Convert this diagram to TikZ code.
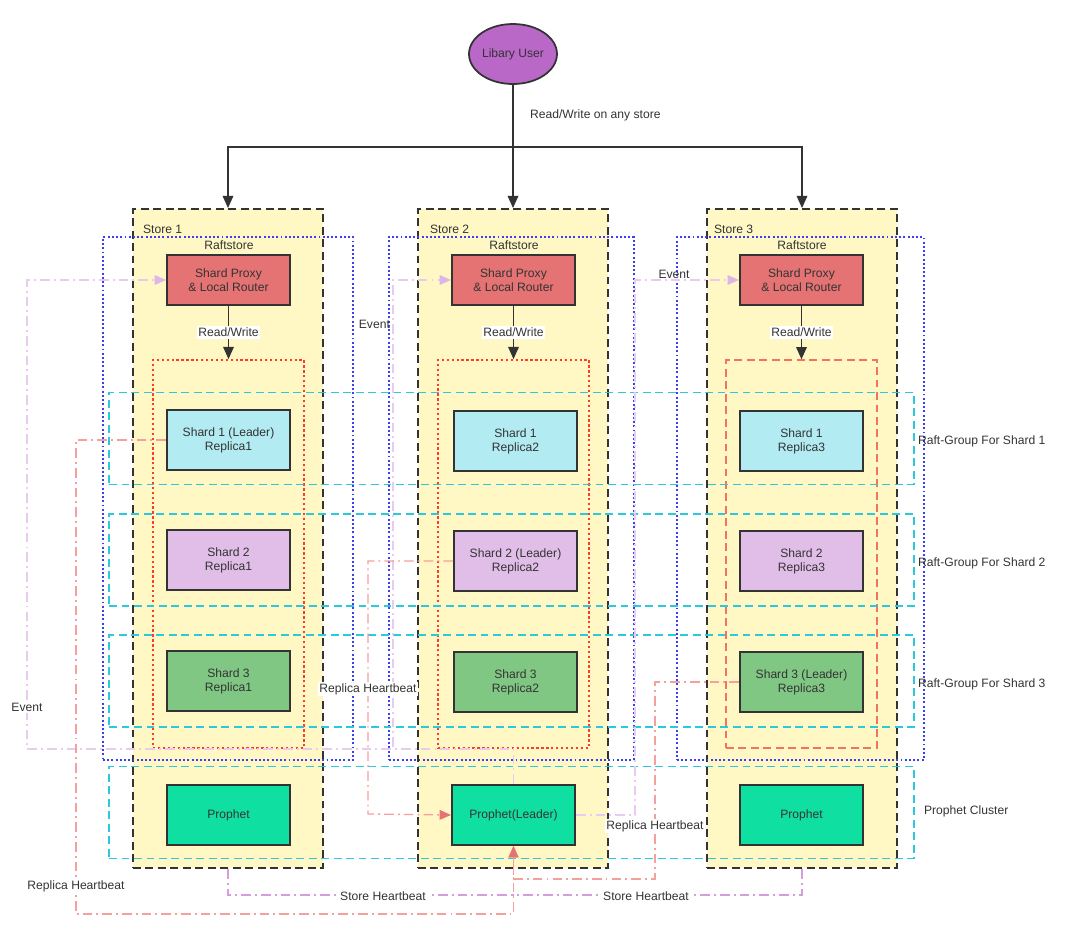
\documentclass[tikz,border=0pt]{standalone}
\usepackage{fontspec}
\setmainfont{Liberation Sans}
\usetikzlibrary{arrows.meta,shapes.geometric}
\definecolor{ink}{HTML}{333333}
\definecolor{storefill}{HTML}{FFF8C5}
\definecolor{rsblue}{HTML}{3D3DF2}
\definecolor{redgrp}{HTML}{FF3B30}
\definecolor{redgrpb}{HTML}{F2735E}
\definecolor{cyangrp}{HTML}{2CC8DC}
\definecolor{evcol}{HTML}{E8CBEF}
\definecolor{evtip}{HTML}{DDB6E8}
\definecolor{rhcol}{HTML}{F4A09C}
\definecolor{rhtip}{HTML}{E57373}
\definecolor{shcol}{HTML}{D49EDD}
\definecolor{usercol}{HTML}{BA68C8}
\definecolor{proxycol}{HTML}{E57373}
\definecolor{sh1col}{HTML}{B2EBF2}
\definecolor{sh2col}{HTML}{E1BEE7}
\definecolor{sh3col}{HTML}{81C784}
\definecolor{propcol}{HTML}{0FE0A1}
\begin{document}
\begin{tikzpicture}[x=0.02cm,y=-0.02cm,
  font=\fontsize{6.9}{8}\selectfont, text=ink,
  box/.style={draw=ink, line width=1.1pt, minimum width=2.46cm, minimum height=1.2cm, inner sep=0pt, align=center},
  storebox/.style={draw=ink, fill=storefill, line width=1.1pt, dash pattern=on 4.5pt off 2.6pt, minimum width=3.8cm, minimum height=13.18cm, inner sep=0pt},
  rsbox/.style={draw=rsblue, line width=0.7pt, dash pattern=on 1.1pt off 1.3pt, minimum height=10.46cm, inner sep=0pt},
  redbox/.style={draw=redgrp, line width=1pt, dash pattern=on 1.3pt off 1.5pt, minimum width=3.02cm, minimum height=7.76cm, inner sep=0pt},
  redboxb/.style={draw=redgrpb, line width=0.8pt, dash pattern=on 4.5pt off 2.6pt, minimum width=3.02cm, minimum height=7.76cm, inner sep=0pt},
  cyanbox/.style={draw=cyangrp, line width=0.8pt, dash pattern=on 4.5pt off 2.6pt, minimum width=16.1cm, minimum height=1.84cm, inner sep=0pt},
  blk/.style={draw=ink, line width=1pt, -{Triangle[length=7pt,width=6pt]}},
  event/.style={draw=evcol, line width=0.75pt, dash pattern=on 5.5pt off 2.3pt on 1.1pt off 2.3pt, -{Triangle[length=6.5pt,width=5.5pt,color=evtip]}},
  rhb/.style={draw=rhcol, line width=0.75pt, dash pattern=on 5.5pt off 2.3pt on 1.1pt off 2.3pt, -{Triangle[length=6.5pt,width=5.5pt,color=rhtip]}},
  shb/.style={draw=shcol, line width=0.75pt, dash pattern=on 5.5pt off 2.3pt on 1.1pt off 2.3pt},
  lbl/.style={inner sep=1pt},
  wlbl/.style={fill=white, inner sep=1pt}
]
\useasboundingbox (0,0) rectangle (1080,937);

% stores
\node[storebox] (s1) at (228,538.5) {};
\node[storebox] (s2) at (513,538.5) {};
\node[storebox] (s3) at (802,538.5) {};
\node[lbl, anchor=west] (s1t) at (141,229) {Store 1};
\node[lbl, anchor=west] (s2t) at (428,229) {Store 2};
\node[lbl, anchor=west] (s3t) at (712,229) {Store 3};

% raftstores
\node[rsbox, minimum width=5cm] (rs1) at (228,498.5) {};
\node[rsbox, minimum width=4.9cm] (rs2) at (511.5,498.5) {};
\node[rsbox, minimum width=4.94cm] (rs3) at (800.5,498.5) {};
\node[lbl] (rs1t) at (229,245) {Raftstore};
\node[lbl] (rs2t) at (514,245) {Raftstore};
\node[lbl] (rs3t) at (802,245) {Raftstore};

% red groups
\node[redbox] (r1) at (228.5,554) {};
\node[redbox] (r2) at (513.5,554) {};
\node[redboxb] (r3) at (801.5,554) {};

% raft groups
\node[cyanbox] (g1) at (511.5,438.5) {};
\node[cyanbox] (g2) at (511.5,560) {};
\node[cyanbox] (g3) at (511.5,681) {};
\node[cyanbox] (g4) at (511.5,812.5) {};
\node[lbl, anchor=west] (g1t) at (916,441) {Raft-Group For Shard 1};
\node[lbl, anchor=west] (g2t) at (916,563) {Raft-Group For Shard 2};
\node[lbl, anchor=west] (g3t) at (916,684) {Raft-Group For Shard 3};
\node[lbl, anchor=west] (g4t) at (922,811) {Prophet Cluster};

% nodes
\node[ellipse, draw=ink, line width=1pt, fill=usercol, minimum width=1.76cm, minimum height=1.2cm, inner sep=0pt] (user) at (513,54) {Libary User};

\node[box, fill=proxycol, minimum height=1cm] (p1) at (228.5,280) {Shard Proxy\\\& Local Router};
\node[box, fill=proxycol, minimum height=1cm] (p2) at (513.5,280) {Shard Proxy\\\& Local Router};
\node[box, fill=proxycol, minimum height=1cm] (p3) at (801.5,280) {Shard Proxy\\\& Local Router};

\node[box, fill=sh1col] (a11) at (228.5,440) {Shard 1 (Leader)\\Replica1};
\node[box, fill=sh1col] (a12) at (515.5,441) {Shard 1\\Replica2};
\node[box, fill=sh1col] (a13) at (801.5,441) {Shard 1\\Replica3};

\node[box, fill=sh2col] (a21) at (228.5,560) {Shard 2\\Replica1};
\node[box, fill=sh2col] (a22) at (515.5,561) {Shard 2 (Leader)\\Replica2};
\node[box, fill=sh2col] (a23) at (801.5,561) {Shard 2\\Replica3};

\node[box, fill=sh3col] (a31) at (228.5,681) {Shard 3\\Replica1};
\node[box, fill=sh3col] (a32) at (515.5,682) {Shard 3\\Replica2};
\node[box, fill=sh3col] (a33) at (801.5,682) {Shard 3 (Leader)\\Replica3};

% coordinates for connectors
\coordinate (j) at (513,147);
\coordinate (e1) at (27,749);
\coordinate (e2) at (393,749);
\coordinate (e3) at (635,815);
\coordinate (h1) at (76,914);
\coordinate (h2) at (368,814);
\coordinate (h3) at (655,879);
\coordinate (sh) at (513,895);

% prophets
\node[box, fill=propcol] (q1) at (228.5,815) {Prophet};
\node[box, fill=propcol] (pl) at (513.5,815) {Prophet(Leader)};
\node[box, fill=propcol] (q3) at (801.5,815) {Prophet};

% events
\draw[event] (pl.north) |- (e1) |- (p1.west);
\draw[event] (pl.north) |- (e2) |- (p2.west);
\draw[event] (pl.east) -- (e3) |- (p3.west);
\node[wlbl] (ev1) at (27,707) {Event};
\node[lbl, anchor=east] (ev2) at (392,324) {Event};
\node[lbl] (ev3) at (674,274) {Event};

% store heartbeats
\draw[shb] (s1.south) |- (sh);
\draw[shb] (s3.south) |- (sh);
\node[wlbl] (sh1t) at (383,896) {Store Heartbeat};
\node[wlbl] (sh3t) at (646,896) {Store Heartbeat};

% replica heartbeats
\draw[rhb] (a11.west) -| (h1) -| (pl.south);
\draw[rhb] (a22.west) -| (h2) -- (pl.west);
\draw[rhb] (a33.west) -| (h3) -| (pl.south);
\node[wlbl] (rh1t) at (76,886) {Replica Heartbeat};
\node[wlbl] (rh2t) at (368,689) {Replica Heartbeat};
\node[wlbl] (rh3t) at (655,826) {Replica Heartbeat};

% user connections
\draw[draw=ink, line width=1pt] (user.south) -- (j);
\draw[blk] (j) -| (s1.north);
\draw[blk] (j) -- (s2.north);
\draw[blk] (j) -| (s3.north);
\node[lbl, anchor=west] (ut) at (528,115) {Read/Write on any store};

% read/write
\draw[blk] (p1.south) -- node[wlbl] {Read/Write} (r1.north);
\draw[blk] (p2.south) -- node[wlbl] {Read/Write} (r2.north);
\draw[blk] (p3.south) -- node[wlbl] {Read/Write} (r3.north);
\end{tikzpicture}
\end{document}
